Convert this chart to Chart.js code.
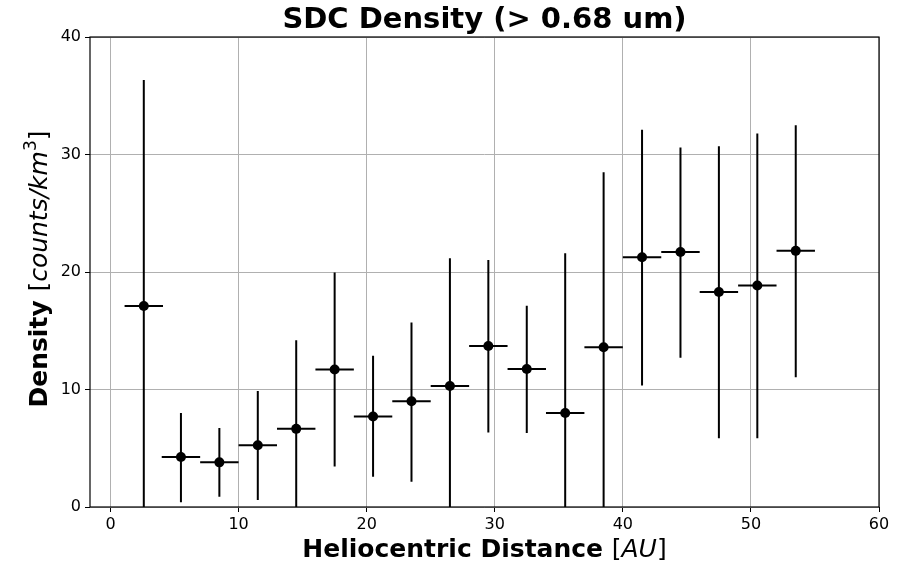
<!DOCTYPE html>
<html>
<head>
<meta charset="utf-8">
<script src="https://cdn.jsdelivr.net/npm/chart.js@4/dist/chart.umd.min.js"></script>
<style>
  html, body { margin: 0; padding: 0; background: #fff; }
  #c { display: block; }
</style>
</head>
<body>
<canvas id="c" width="907" height="566"></canvas>
<script>
// ---- data ----
const distanceAU   = [2.6, 5.5, 8.5, 11.5, 14.5, 17.5, 20.5, 23.5, 26.5, 29.5, 32.5, 35.5, 38.5, 41.5, 44.5, 47.5, 50.5, 53.5];
const binHalfWidth = [1.5, 1.5, 1.5, 1.5, 1.5, 1.5, 1.5, 1.5, 1.5, 1.5, 1.5, 1.5, 1.5, 1.5, 1.5, 1.5, 1.5, 1.5];
const density      = [17.1, 4.25, 3.8, 5.25, 6.65, 11.7, 7.7, 9.0, 10.3, 13.7, 11.75, 8.0, 13.6, 21.25, 21.7, 18.3, 18.85, 21.8];
const densityLow   = [0, 0.4, 0.88, 0.6, 0, 3.45, 2.58, 2.15, 0, 6.35, 6.3, 0, 0, 10.35, 12.7, 5.85, 5.85, 11.05];
const densityHigh  = [36.35, 8.0, 6.72, 9.87, 14.2, 19.95, 12.88, 15.7, 21.17, 21.03, 17.13, 21.6, 28.5, 32.1, 30.6, 30.7, 31.78, 32.48];
const xTickValues  = [0, 10, 20, 30, 40, 50, 60];
const yTickValues  = [0, 10, 20, 30, 40];
const titleText    = 'SDC Density (> 0.68 um)';

const FAM = '"DejaVu Sans", sans-serif';

function drawParts(ctx, parts, cx, cy, rotate) {
  ctx.save();
  ctx.translate(cx, cy);
  if (rotate) ctx.rotate(-Math.PI / 2);
  let total = 0;
  for (const p of parts) { ctx.font = p.font; p.w = ctx.measureText(p.text).width; total += p.w; }
  let x = -total / 2;
  ctx.textBaseline = 'alphabetic';
  ctx.textAlign = 'left';
  ctx.fillStyle = '#000';
  for (const p of parts) {
    ctx.font = p.font;
    ctx.fillText(p.text, x, p.dy || 0);
    x += p.w;
  }
  ctx.restore();
}

const errorBars = {
  id: 'errorBars',
  beforeDatasetsDraw(chart) {
    const { ctx, scales: { x, y } } = chart;
    ctx.save();
    ctx.strokeStyle = '#000';
    ctx.lineWidth = 2;
    ctx.lineCap = 'butt';
    for (let i = 0; i < distanceAU.length; i++) {
      const px = x.getPixelForValue(distanceAU[i]);
      const py = y.getPixelForValue(density[i]);
      ctx.beginPath();
      ctx.moveTo(px, y.getPixelForValue(densityLow[i]));
      ctx.lineTo(px, y.getPixelForValue(densityHigh[i]));
      ctx.moveTo(x.getPixelForValue(distanceAU[i] - binHalfWidth[i]), py);
      ctx.lineTo(x.getPixelForValue(distanceAU[i] + binHalfWidth[i]), py);
      ctx.stroke();
    }
    ctx.restore();
  },
  afterDraw(chart) {
    const { ctx, chartArea: a } = chart;
    ctx.save();
    ctx.strokeStyle = '#000';
    ctx.lineWidth = 1.2;
    ctx.strokeRect(a.left, a.top, a.right - a.left, a.bottom - a.top);
    ctx.restore();
    const cx = (a.left + a.right) / 2;
    const cy = (a.top + a.bottom) / 2;
    // title
    drawParts(ctx, [{ text: titleText, font: 'bold 29px ' + FAM }], cx, 28, false);
    // x label
    drawParts(ctx, [
      { text: 'Heliocentric Distance ', font: 'bold 25px ' + FAM },
      { text: '[', font: '25px ' + FAM },
      { text: 'AU', font: 'italic 25px ' + FAM },
      { text: ']', font: '25px ' + FAM }
    ], cx, 557, false);
    // y label
    drawParts(ctx, [
      { text: 'Density ', font: 'bold 25px ' + FAM },
      { text: '[', font: '25px ' + FAM },
      { text: 'counts/km', font: 'italic 25px ' + FAM },
      { text: '3', font: '17px ' + FAM, dy: -11 },
      { text: ']', font: '25px ' + FAM }
    ], 47, cy - 3, true);
  }
};

const tickFont = { family: FAM, size: 16 };

new Chart(document.getElementById('c'), {
  type: 'scatter',
  data: {
    datasets: [{
      data: distanceAU.map((v, i) => ({ x: v, y: density[i] })),
      pointRadius: 5,
      pointHoverRadius: 5,
      pointBackgroundColor: '#000',
      pointBorderColor: '#000',
      pointBorderWidth: 0,
      showLine: false
    }]
  },
  options: {
    responsive: false,
    devicePixelRatio: 1,
    animation: false,
    layout: { padding: { top: 37, right: 28, left: 0, bottom: 0 } },
    plugins: { legend: { display: false }, tooltip: { enabled: false }, title: { display: false } },
    scales: {
      x: {
        type: 'linear',
        min: -1.6,
        max: 60,
        afterBuildTicks: s => { s.ticks = xTickValues.map(v => ({ value: v })); },
        afterFit: s => { s.height = 59; },
        grid: { color: '#b0b0b0', lineWidth: 1, tickColor: '#000', tickLength: 5, tickWidth: 1 },
        border: { display: false },
        ticks: { color: '#000', font: tickFont, padding: 3, maxRotation: 0, autoSkip: false }
      },
      y: {
        type: 'linear',
        min: 0,
        max: 40,
        afterBuildTicks: s => { s.ticks = yTickValues.map(v => ({ value: v })); },
        afterFit: s => { s.width = 90; },
        grid: { color: '#b0b0b0', lineWidth: 1, tickColor: '#000', tickLength: 5, tickWidth: 1 },
        border: { display: false },
        ticks: { color: '#000', font: tickFont, padding: 4, autoSkip: false }
      }
    }
  },
  plugins: [errorBars]
});
</script>
</body>
</html>
